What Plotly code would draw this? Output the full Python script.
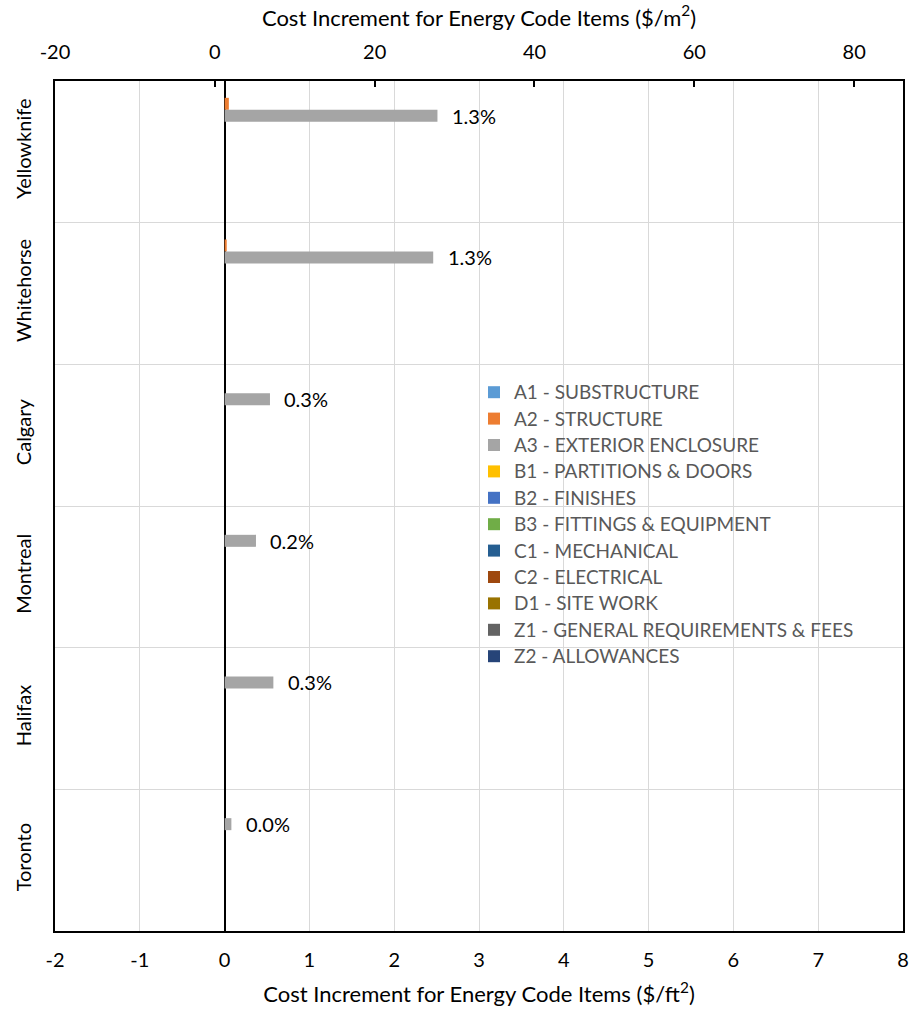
import plotly.graph_objects as go

# Cities (top to bottom) and cost-increment items
cities = ["Yellowknife", "Whitehorse", "Calgary", "Montreal", "Halifax", "Toronto"]

items = [
    "A1 - SUBSTRUCTURE",
    "A2 - STRUCTURE",
    "A3 - EXTERIOR ENCLOSURE",
    "B1 - PARTITIONS & DOORS",
    "B2 - FINISHES",
    "B3 - FITTINGS & EQUIPMENT",
    "C1 - MECHANICAL",
    "C2 - ELECTRICAL",
    "D1 - SITE WORK",
    "Z1 - GENERAL REQUIREMENTS & FEES",
    "Z2 - ALLOWANCES",
]

colors = ["#5B9BD5", "#ED7D31", "#A5A5A5", "#FFC000", "#4472C4", "#70AD47",
          "#255E91", "#9E480E", "#997300", "#636363", "#264478"]

# Cost increment per item, $/ft2 (one value per city)
a1 = [0.0, 0.0, 0.0, 0.0, 0.0, 0.0]
a2 = [0.05, 0.025, 0.0, 0.0, 0.0, 0.0]
a3 = [2.51, 2.46, 0.535, 0.37, 0.575, 0.08]
b1 = [0.0, 0.0, 0.0, 0.0, 0.0, 0.0]
b2 = [0.0, 0.0, 0.0, 0.0, 0.0, 0.0]
b3 = [0.0, 0.0, 0.0, 0.0, 0.0, 0.0]
c1 = [0.0, 0.0, 0.0, 0.0, 0.0, 0.0]
c2 = [0.0, 0.0, 0.0, 0.0, 0.0, 0.0]
d1 = [0.0, 0.0, 0.0, 0.0, 0.0, 0.0]
z1 = [0.0, 0.0, 0.0, 0.0, 0.0, 0.0]
z2 = [0.0, 0.0, 0.0, 0.0, 0.0, 0.0]

# Increment as share of total construction cost, shown next to A3 bars
pct_labels = ["1.3%", "1.3%", "0.3%", "0.2%", "0.3%", "0.0%"]

# Axis ticks: $/ft2 (bottom) and $/m2 (top)
ft2_ticks = [-2, -1, 0, 1, 2, 3, 4, 5, 6, 7, 8]
m2_ticks = [-20, 0, 20, 40, 60, 80]

series = [a1, a2, a3, b1, b2, b3, c1, c2, d1, z1, z2]

FT2_PER_M2 = 10.764
x_range = [-2, 8]
x2_range = [-20, x_range[1] * FT2_PER_M2]

FONT = "Lato, 'Open Sans', sans-serif"

fig = go.Figure()
for name, vals, col in zip(items, series, colors):
    fig.add_trace(go.Bar(
        y=cities, x=vals, orientation="h",
        name="<span style='font-size:19px'>" + name + "</span>",
        marker=dict(color=col, line=dict(width=0)),
    ))

# invisible trace so the secondary ($/m2) axis gets drawn
fig.add_trace(go.Scatter(x=[None], y=[None], xaxis="x2", showlegend=False,
                         hoverinfo="skip"))

# percentage labels beside the exterior-enclosure bars
n_items = len(items)
a3_idx = items.index("A3 - EXTERIOR ENCLOSURE")
plot_h = 1011 - 81 - 80
bar_px = plot_h / len(cities) * (1 - 0.068) / n_items
for city, val, lab in zip(cities, a3, pct_labels):
    fig.add_annotation(
        x=val, y=city, xref="x", yref="y", text=lab, showarrow=False,
        xanchor="left", yanchor="middle", xshift=12.5,
        yshift=(n_items / 2 - a3_idx - 0.5) * bar_px,
        font=dict(family=FONT, size=20, color="#000000"),
    )

# white panel behind the legend
fig.add_shape(type="rect", xref="paper", yref="paper",
              x0=(451 - 55) / 848, x1=(888 - 55) / 848,
              y0=1 - (668 - 81) / 850, y1=1 - (377 - 81) / 850,
              fillcolor="white", line=dict(width=0), layer="between")

fig.update_layout(
    width=911, height=1011,
    margin=dict(l=55, r=8, t=81, b=80, autoexpand=False),
    paper_bgcolor="white", plot_bgcolor="white",
    barmode="group", bargap=0.068, bargroupgap=0,
    font=dict(family=FONT, size=20, color="#000000"),
    showlegend=True,
    legend=dict(
        x=(474 - 55) / 848, xanchor="left",
        y=1 - (374 - 81) / 850, yanchor="top",
        bgcolor="rgba(0,0,0,0)", borderwidth=0,
        font=dict(family=FONT, size=18, color="#595959"),
        itemwidth=30, tracegroupgap=0, traceorder="normal",
    ),
    xaxis=dict(
        range=x_range, tickmode="array",
        tickvals=ft2_ticks, ticktext=[str(v) for v in ft2_ticks],
        automargin=False,
        showgrid=True, gridcolor="#D9D9D9", gridwidth=1.3,
        zeroline=True, zerolinecolor="#000000", zerolinewidth=1.5,
        showline=True, linecolor="#000000", linewidth=1.5,
        ticks="", ticklabelstandoff=10,
        tickfont=dict(family=FONT, size=20, color="#000000"),
        title=dict(text="Cost Increment for Energy Code Items ($/ft<sup>2</sup>)",
                   font=dict(family=FONT, size=22, color="#000000"), standoff=17),
    ),
    xaxis2=dict(
        overlaying="x", side="top",
        range=x2_range,
        tickmode="array",
        tickvals=m2_ticks, ticktext=[str(v) for v in m2_ticks],
        automargin=False,
        showgrid=False, zeroline=False,
        showline=True, linecolor="#000000", linewidth=1.5,
        ticks="inside", ticklen=6, tickwidth=1.5, tickcolor="#000000",
        ticklabelstandoff=12,
        tickfont=dict(family=FONT, size=20, color="#000000"),
        title=dict(text="Cost Increment for Energy Code Items ($/m<sup>2</sup>)",
                   font=dict(family=FONT, size=22, color="#000000"), standoff=7),
    ),
    yaxis=dict(
        autorange="reversed", type="category",
        automargin=False,
        tickson="boundaries", ticks="",
        showgrid=True, gridcolor="#D9D9D9", gridwidth=1.3,
        showline=True, linecolor="#000000", linewidth=1.5, mirror=True,
        tickangle=-90, ticklabelstandoff=14,
        tickfont=dict(family=FONT, size=20, color="#000000"),
    ),
)

fig.write_html("out.html")
